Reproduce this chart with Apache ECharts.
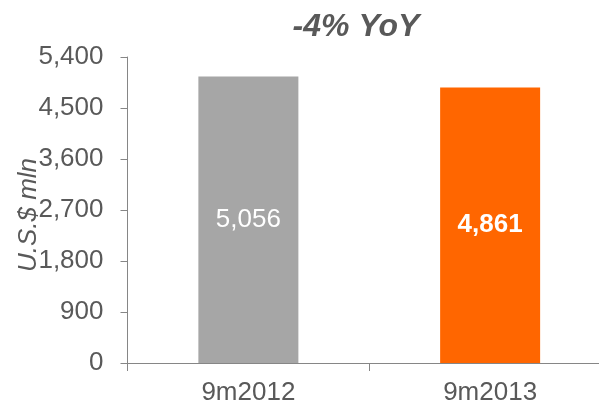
<!DOCTYPE html>
<html>
<head>
<meta charset="utf-8">
<script src="https://cdn.jsdelivr.net/npm/echarts@6/dist/echarts.min.js"></script>
<style>html,body{margin:0;padding:0;background:#fff}#c{width:599px;height:406px}</style>
</head>
<body>
<div id="c"></div>
<script>
const categories = ['9m2012', '9m2013'];
const values = [5056, 4861];
const barColors = ['#A6A6A6', '#FF6600'];
const yTicks = [0, 900, 1800, 2700, 3600, 4500, 5400];
const titleText = '-4% YoY';
const yName = 'U.S.$ mln';

const font = 'Arial, "Liberation Sans", sans-serif';
const chart = echarts.init(document.getElementById('c'), null, {renderer: 'canvas'});
chart.setOption({
  animation: false,
  title: {
    text: titleText,
    left: 351, top: 6,
    textAlign: 'center',
    textStyle: {fontFamily: font, fontSize: 32, fontWeight: 'bold', fontStyle: 'italic', color: '#595959'}
  },
  grid: {left: 127.5, right: -12, top: 57, bottom: 43, containLabel: false, outerBoundsMode: 'none'},
  xAxis: {
    type: 'category',
    data: categories,
    boundaryGap: true,
    axisLine: {lineStyle: {color: '#868686', width: 1}},
    axisTick: {show: true, length: 8, lineStyle: {color: '#868686'}},
    axisLabel: {fontFamily: font, fontSize: 26, color: '#595959', margin: 17}
  },
  yAxis: {
    type: 'value',
    min: yTicks[0], max: yTicks[yTicks.length - 1], interval: yTicks[1] - yTicks[0],
    name: yName,
    nameLocation: 'middle',
    nameGap: 86,
    nameMoveOverlap: false,
    nameTextStyle: {fontFamily: font, fontSize: 26, fontStyle: 'italic', color: '#595959', padding: [0, 10, 0, 0]},
    axisLine: {show: true, lineStyle: {color: '#868686', width: 1}},
    axisTick: {show: true, length: 7, lineStyle: {color: '#868686'}},
    splitLine: {show: false},
    axisLabel: {
      fontFamily: font, fontSize: 26, color: '#595959', margin: 24,
      formatter: v => v.toLocaleString('en-US')
    }
  },
  series: [{
    type: 'bar',
    barWidth: 100,
    data: values.map((v, i) => ({
      value: v,
      itemStyle: {color: barColors[i]},
      label: {fontWeight: i === 1 ? 'bold' : 'normal'}
    })),
    label: {
      show: true, position: 'inside', color: '#fff',
      fontFamily: font, fontSize: 26,
      formatter: p => p.value.toLocaleString('en-US')
    }
  }]
});
</script>
</body>
</html>
